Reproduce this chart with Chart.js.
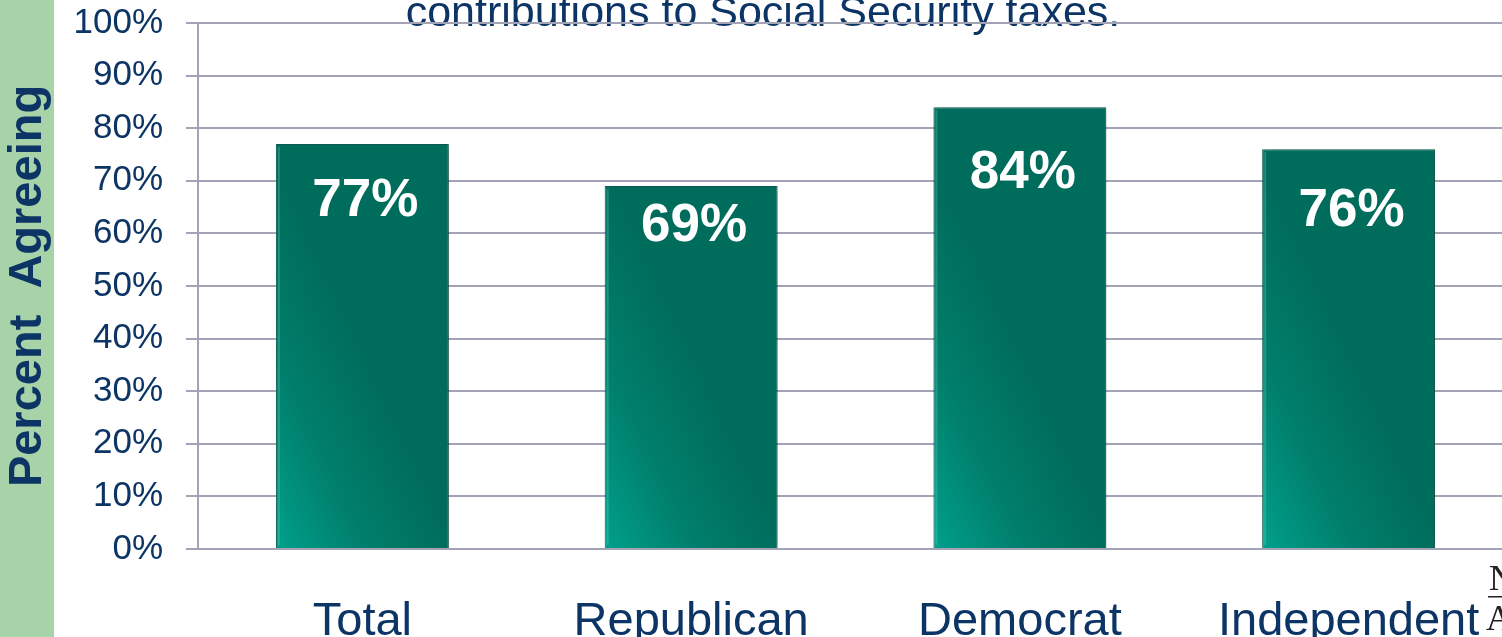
<!DOCTYPE html>
<html>
<head>
<meta charset="utf-8">
<script src="https://cdn.jsdelivr.net/npm/chart.js@4/dist/chart.umd.min.js"></script>
<style>
  html, body { margin: 0; padding: 0; background: #fff; overflow: hidden; }
  #wrap { position: absolute; left: 0; top: 0; width: 1520px; height: 637px; }
</style>
</head>
<body>
<div id="wrap"><canvas id="chart"></canvas></div>
<script>
// data
const categories = ['Total', 'Republican', 'Democrat', 'Independent'];
const agreeing = [77, 69, 84, 76];
const yTicks = [0, 10, 20, 30, 40, 50, 60, 70, 80, 90, 100];

const navy = '#0c3566';
const gridGray = '#a2a4b6';
const barPct = 0.526;
// how far below the bar top each value label sits
const labelDrop = [57, 40, 66, 62];

function barFill(ctx) {
  const chart = ctx.chart;
  const xs = chart.scales.x, ys = chart.scales.y;
  if (!xs || !ys || !chart.chartArea) return '#007a68';
  const half = xs.width / categories.length * barPct / 2;
  const left = xs.getPixelForValue(ctx.dataIndex) - half;
  const base = ys.getPixelForValue(0);
  const g = chart.ctx.createLinearGradient(left, base, left + half * 1.7, base - half * 0.8);
  g.addColorStop(0, '#00a08b');
  g.addColorStop(0.5, '#007f6c');
  g.addColorStop(1, '#006c5c');
  return g;
}

// green strip, cut-off heading and side fragment
const decor = {
  id: 'decor',
  beforeDraw(chart) {
    const c = chart.ctx;
    c.save();
    c.fillStyle = '#a8d3a8';
    c.fillRect(0, 0, 54, chart.height);
    c.fillStyle = navy;
    c.font = '43px Arial, "Liberation Sans"';
    c.textAlign = 'center';
    c.textBaseline = 'alphabetic';
    c.fillText('contributions to Social Security taxes.', 763, 26);
    c.fillStyle = '#222';
    c.font = '36px "Liberation Serif", serif';
    c.textAlign = 'left';
    c.fillText('N', 1489, 590);
    c.fillText('A', 1486, 630);
    c.fillRect(1488, 596, 20, 1.5);
    c.restore();
  }
};

const barShadow = {
  id: 'barShadow',
  beforeDatasetsDraw(chart) {
    const c = chart.ctx;
    c.save();
    c.shadowColor = 'rgba(0,0,0,0.28)';
    c.shadowBlur = 7;
    c.shadowOffsetX = 4;
    c.shadowOffsetY = 2;
  },
  afterDatasetsDraw(chart) {
    chart.ctx.restore();
  }
};

const valueLabels = {
  id: 'valueLabels',
  afterDatasetsDraw(chart) {
    const c = chart.ctx;
    const bars = chart.getDatasetMeta(0).data;
    c.save();
    bars.forEach((bar, i) => {
      // faint highlight along the left edge
      c.fillStyle = 'rgba(120,230,210,0.25)';
      c.fillRect(bar.x - bar.width / 2 + 2, bar.y + 3, 2, bar.base - bar.y - 6);
    });
    c.fillStyle = '#ffffff';
    c.font = 'bold 53px Arial, "Liberation Sans"';
    c.textAlign = 'center';
    c.textBaseline = 'middle';
    bars.forEach((bar, i) => {
      c.fillText(agreeing[i] + '%', bar.x + 3, bar.y + labelDrop[i]);
    });
    c.restore();
  }
};

new Chart(document.getElementById('chart'), {
  type: 'bar',
  data: {
    labels: categories,
    datasets: [{
      label: 'Percent Agreeing',
      data: agreeing,
      backgroundColor: barFill,
      borderColor: '#0c5f51',
      borderWidth: 1,
      categoryPercentage: 1,
      barPercentage: barPct,
    }]
  },
  options: {
    responsive: true,
    maintainAspectRatio: false,
    animation: false,
    layout: { padding: { top: 23, left: 0, right: 7, bottom: 0 } },
    plugins: { legend: { display: false }, tooltip: { enabled: false } },
    scales: {
      x: {
        grid: { display: false },
        border: { display: true, color: gridGray, width: 2 },
        ticks: { color: navy, padding: 37, font: { family: 'Arial, "Liberation Sans"', size: 47 } },
        afterFit(s) { s.height = 88; s.paddingLeft = 0; s.paddingRight = 0; }
      },
      y: {
        min: 0,
        max: 100,
        afterBuildTicks(s) { s.ticks = yTicks.map(v => ({ value: v })); },
        grid: { color: gridGray, lineWidth: 2, tickLength: 12 },
        border: { display: true, color: gridGray, width: 2 },
        ticks: {
          color: navy,
          padding: 23,
          font: { family: 'Arial, "Liberation Sans"', size: 35 },
          callback: v => v + '%'
        },
        title: {
          display: true,
          text: 'Percent  Agreeing',
          color: navy,
          padding: { top: 0, bottom: 0 },
          font: { family: 'Arial, "Liberation Sans"', size: 47, weight: 'bold' }
        },
        afterFit(s) { s.width = 198; s.paddingTop = 0; s.paddingBottom = 0; }
      }
    }
  },
  plugins: [decor, barShadow, valueLabels]
});
</script>
</body>
</html>
